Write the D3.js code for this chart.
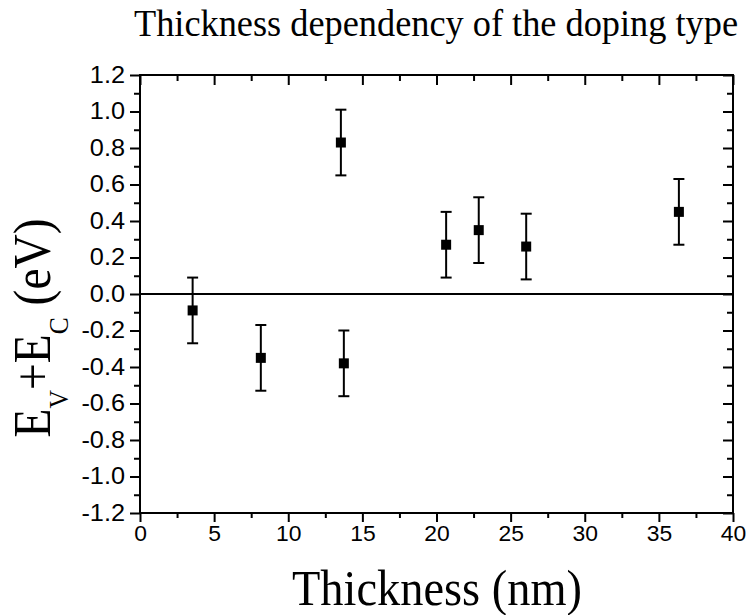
<!DOCTYPE html>
<html>
<head>
<meta charset="utf-8">
<script src="https://cdn.jsdelivr.net/npm/d3@7"></script>
<style>
  body { margin: 0; background: #fff; }
  svg { display: block; }
</style>
</head>
<body>
<svg id="chart" width="748" height="615"></svg>
<script>
// thickness (nm) and E_V+E_C (eV)
var thickness = [3.55, 8.15, 13.55, 13.75, 20.65, 22.85, 26.05, 36.35];
var energy    = [-0.09, -0.35, 0.83, -0.38, 0.27, 0.35, 0.26, 0.45];
var errBar    = [0.18, 0.18, 0.18, 0.18, 0.18, 0.18, 0.18, 0.18];

var xMajor = [0, 5, 10, 15, 20, 25, 30, 35, 40];
var xMinor = [2.5, 7.5, 12.5, 17.5, 22.5, 27.5, 32.5, 37.5];
var yMajor = [-1.2, -1.0, -0.8, -0.6, -0.4, -0.2, 0.0, 0.2, 0.4, 0.6, 0.8, 1.0, 1.2];
var yMinor = [-1.1, -0.9, -0.7, -0.5, -0.3, -0.1, 0.1, 0.3, 0.5, 0.7, 0.9, 1.1];

function drawChart() {
    var svg = d3.select("#chart");
    var pLeft = 140, pRight = 733, pTop = 75, pBottom = 513;

    var x = d3.scaleLinear().domain([0, 40]).range([pLeft, pRight]);
    var y = d3.scaleLinear().domain([-1.2, 1.2]).range([pBottom, pTop]);

    function styleAxis(size) {
        return function (g) {
            g.select(".domain").remove();
            g.attr("font-family", "'Liberation Sans', Arial, sans-serif").attr("font-size", size);
            g.selectAll(".tick line").attr("stroke", "#000").attr("stroke-width", 2);
            g.selectAll(".tick text").attr("fill", "#000");
        };
    }

    // the original labels are set a little wider than Arial
    function widen(f) {
        return function (g) {
            g.selectAll(".tick text").each(function () {
                var w = this.getComputedTextLength();
                if (w > 0) d3.select(this).attr("textLength", w * f).attr("lengthAdjust", "spacingAndGlyphs");
            });
        };
    }

    // bottom axis (outward ticks, labelled)
    svg.append("g").attr("transform", "translate(0," + pBottom + ")")
        .call(d3.axisBottom(x).tickValues(xMajor).tickSize(9).tickPadding(3).tickFormat(d => d))
        .call(styleAxis(22))
        .call(widen(1.04));
    svg.append("g").attr("transform", "translate(0," + pBottom + ")")
        .call(d3.axisBottom(x).tickValues(xMinor).tickSize(5).tickFormat(""))
        .call(styleAxis(22));

    // top axis (inward ticks, no labels)
    svg.append("g").attr("transform", "translate(0," + pTop + ")")
        .call(d3.axisBottom(x).tickValues(xMajor).tickSize(10).tickFormat(""))
        .call(styleAxis(22));
    svg.append("g").attr("transform", "translate(0," + pTop + ")")
        .call(d3.axisBottom(x).tickValues(xMinor).tickSize(6).tickFormat(""))
        .call(styleAxis(22));

    // left axis (outward ticks, labelled)
    svg.append("g").attr("transform", "translate(" + pLeft + ",0)")
        .call(d3.axisLeft(y).tickValues(yMajor).tickSize(10).tickPadding(5).tickFormat(d => d.toFixed(1)))
        .call(styleAxis(23))
        .call(widen(1.1));
    svg.append("g").attr("transform", "translate(" + pLeft + ",0)")
        .call(d3.axisLeft(y).tickValues(yMinor).tickSize(6).tickFormat(""))
        .call(styleAxis(23));

    // right axis (inward ticks)
    svg.append("g").attr("transform", "translate(" + pRight + ",0)")
        .call(d3.axisLeft(y).tickValues(yMajor).tickSize(10).tickFormat(""))
        .call(styleAxis(23));
    svg.append("g").attr("transform", "translate(" + pRight + ",0)")
        .call(d3.axisLeft(y).tickValues(yMinor).tickSize(6).tickFormat(""))
        .call(styleAxis(23));

    // frame
    svg.append("rect")
        .attr("x", pLeft).attr("y", pTop)
        .attr("width", pRight - pLeft).attr("height", pBottom - pTop)
        .attr("fill", "none").attr("stroke", "#000").attr("stroke-width", 2);

    // zero line
    svg.append("line")
        .attr("x1", x(0)).attr("x2", x(40))
        .attr("y1", y(0)).attr("y2", y(0))
        .attr("stroke", "#000").attr("stroke-width", 2);

    var pts = thickness.map((t, i) => ({ t: t, e: energy[i], err: errBar[i] }));

    // error bars
    var eb = svg.append("g").attr("stroke", "#000").attr("stroke-width", 2);
    eb.selectAll(".stem").data(pts).enter().append("line")
        .attr("x1", d => x(d.t)).attr("x2", d => x(d.t))
        .attr("y1", d => y(d.e + d.err)).attr("y2", d => y(d.e - d.err));
    eb.selectAll(".capTop").data(pts).enter().append("line")
        .attr("x1", d => x(d.t) - 5.5).attr("x2", d => x(d.t) + 5.5)
        .attr("y1", d => y(d.e + d.err)).attr("y2", d => y(d.e + d.err));
    eb.selectAll(".capBot").data(pts).enter().append("line")
        .attr("x1", d => x(d.t) - 5.5).attr("x2", d => x(d.t) + 5.5)
        .attr("y1", d => y(d.e - d.err)).attr("y2", d => y(d.e - d.err));

    // square markers
    svg.selectAll(".pt").data(pts).enter().append("rect")
        .attr("x", d => x(d.t) - 5).attr("y", d => y(d.e) - 5)
        .attr("width", 10).attr("height", 10)
        .attr("fill", "#000");

    var serif = "'Liberation Serif', 'Times New Roman', serif";

    // title
    svg.append("text")
        .attr("x", 436).attr("y", 36)
        .attr("text-anchor", "middle")
        .attr("font-family", serif)
        .attr("font-size", 37)
        .attr("textLength", 604).attr("lengthAdjust", "spacingAndGlyphs")
        .text("Thickness dependency of the doping type");

    // x label
    svg.append("text")
        .attr("x", 437).attr("y", 605)
        .attr("text-anchor", "middle")
        .attr("font-family", serif)
        .attr("font-size", 50)
        .attr("textLength", 290).attr("lengthAdjust", "spacingAndGlyphs")
        .text("Thickness (nm)");

    // y label
    var yl = svg.append("text")
        .attr("transform", "translate(50,328) rotate(-90)")
        .attr("text-anchor", "middle")
        .attr("font-family", serif)
        .attr("font-size", 52)
        .attr("textLength", 219).attr("lengthAdjust", "spacingAndGlyphs");
    yl.append("tspan").text("E");
    yl.append("tspan").attr("font-size", 28).attr("dy", 18).text("V");
    yl.append("tspan").attr("dy", -18).text("+E");
    yl.append("tspan").attr("font-size", 28).attr("dy", 18).text("C");
    yl.append("tspan").attr("dy", -18).text(" (eV)");
}

drawChart();
</script>
</body>
</html>
